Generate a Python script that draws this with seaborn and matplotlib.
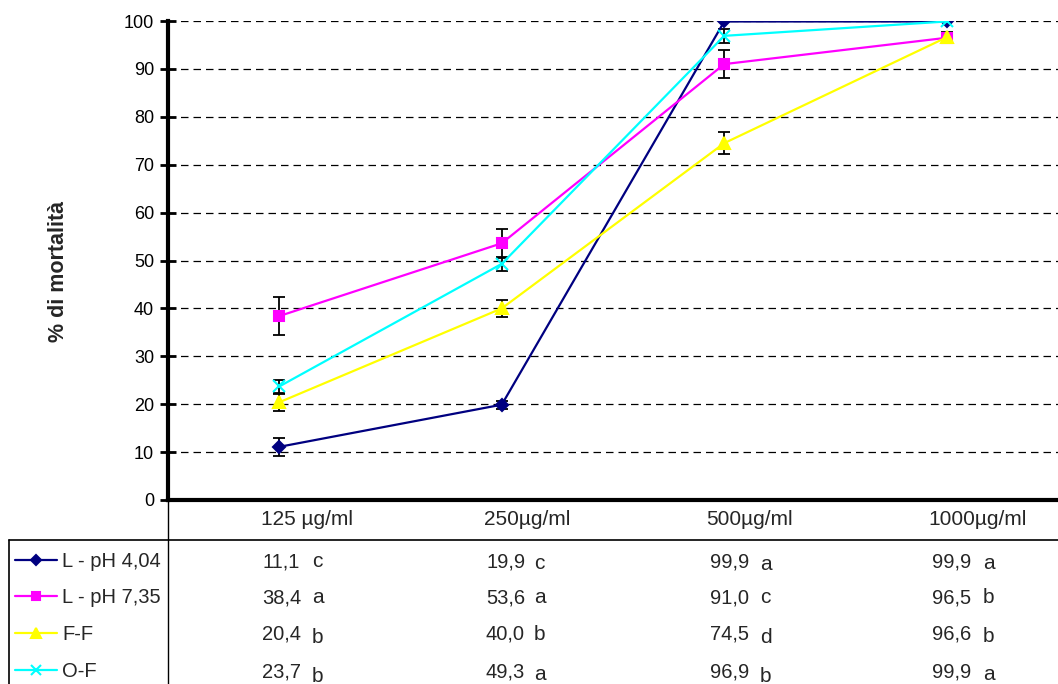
import matplotlib
matplotlib.use("Agg")
import matplotlib.pyplot as plt
from matplotlib.lines import Line2D
import matplotlib.transforms as mtransforms
import seaborn as sns
import pandas as pd
import numpy as np

categories = ["125 µg/ml", "250µg/ml", "500µg/ml", "1000µg/ml"]
series = ["L - pH 4,04", "L - pH 7,35", "F-F", "O-F"]
vals_l404 = [11.1, 19.9, 99.9, 99.9]
vals_l735 = [38.4, 53.6, 91.0, 96.5]
vals_ff = [20.4, 40.0, 74.5, 96.6]
vals_of = [23.7, 49.3, 96.9, 99.9]
err_l404 = [1.9, 0.8, 0.0, 0.0]
err_l735 = [4.0, 3.0, 3.0, 1.0]
err_ff = [1.8, 1.8, 2.3, 1.0]
err_of = [1.3, 1.4, 1.4, 0.0]
letters_l404 = ["c", "c", "a", "a"]
letters_l735 = ["a", "a", "c", "b"]
letters_ff = ["b", "b", "d", "b"]
letters_of = ["b", "a", "b", "a"]
y_ticks = [0, 10, 20, 30, 40, 50, 60, 70, 80, 90, 100]

values = [vals_l404, vals_l735, vals_ff, vals_of]
errors = [err_l404, err_l735, err_ff, err_of]
letters = [letters_l404, letters_l735, letters_ff, letters_of]
colors = {"L - pH 4,04": "#000080", "L - pH 7,35": "#FF00FF", "F-F": "#FFFF00", "O-F": "#00FFFF"}
markers = {"L - pH 4,04": "D", "L - pH 7,35": "s", "F-F": "^", "O-F": "x"}
msizes = {"L - pH 4,04": 6, "L - pH 7,35": 7, "F-F": 8, "O-F": 8}

sns.set_theme(style="white")
plt.rcParams["font.family"] = ["Liberation Sans", "DejaVu Sans"]

W, H = 1058, 684
fig = plt.figure(figsize=(W / 100, H / 100), dpi=100)
ax = fig.add_axes([168 / W, (H - 500) / H, (W - 168) / W, 479 / H])

rows = []
for s, v in zip(series, values):
    for i, c in enumerate(categories):
        rows.append({"series": s, "x": i, "val": v[i]})
df = pd.DataFrame(rows)

for s, v, e in zip(series, values, errors):
    ax.errorbar(range(len(categories)), v, yerr=e, fmt="none", ecolor="black",
                elinewidth=1.3, capsize=4.5, capthick=1.3, zorder=2)

for s in series:
    sub = df[df["series"] == s]
    sns.lineplot(data=sub, x="x", y="val", color=colors[s], marker=markers[s],
                 markersize=msizes[s], markeredgewidth=1.5, markeredgecolor=colors[s],
                 linewidth=1.6, legend=False, ax=ax, zorder=3)

ax.set_xlim(-0.5, 3.5)
ax.set_ylim(0, 100)
ax.set_yticks(y_ticks)
ax.set_yticklabels([str(t) for t in y_ticks], fontsize=13)
ax.set_xticks(range(len(categories)))
ax.set_xticklabels(categories, fontsize=15)
ax.tick_params(axis="x", length=0, pad=7.5)
offset = mtransforms.ScaledTranslation(-0.18, 0, fig.dpi_scale_trans)
for lab in ax.get_xticklabels():
    lab.set_ha("left")
    lab.set_transform(lab.get_transform() + offset)
ax.tick_params(axis="y", direction="inout", length=12, width=2, pad=4, left=True, colors="black")
ax.set_ylabel("% di mortalità", fontsize=15.5, fontweight="bold", va="center")
ax.yaxis.set_label_coords((58 - 168) / 890, (500 - 272) / 479)
ax.set_xlabel("")
ax.grid(axis="y", color="black", linestyle=(0, (6, 4)), linewidth=0.9)
ax.grid(axis="x", visible=False)
for sp in ["top", "right"]:
    ax.spines[sp].set_visible(False)
ax.spines["left"].set_linewidth(3)
ax.spines["bottom"].set_linewidth(3)
ax.spines["left"].set_color("black")
ax.spines["bottom"].set_color("black")

def fx(px):
    return px / W

def fy(py):
    return 1 - py / H

fig.add_artist(Line2D([fx(168), fx(168)], [fy(500), fy(684)], color="black", lw=1))
fig.add_artist(Line2D([fx(9), fx(W)], [fy(540), fy(540)], color="black", lw=1.2))
fig.add_artist(Line2D([fx(9), fx(9)], [fy(540), fy(684)], color="black", lw=1.2))

row_base = [567, 603, 640, 677]
val_x = [262, 486, 710, 932]
let_x = [312, 534, 760, 983]
let_dy = [[0, 2, 3, 2], [0, 0, 0, 0], [3, 0, 3, 2], [5, 3, 5, 3]]
for r, (s, v, lt) in enumerate(zip(series, values, letters)):
    yb = row_base[r]
    yc = yb - 7
    fig.add_artist(Line2D([fx(15), fx(57)], [fy(yc), fy(yc)], color=colors[s], lw=1.6))
    fig.add_artist(Line2D([fx(36)], [fy(yc)], color=colors[s], lw=0, marker=markers[s],
                          markersize=msizes[s] - 1, markeredgewidth=1.5,
                          markerfacecolor=colors[s], markeredgecolor=colors[s]))
    fig.text(fx(62), fy(yb), s, fontsize=14.5, va="baseline", ha="left")
    for i in range(len(categories)):
        txt = f"{v[i]:.1f}".replace(".", ",")
        fig.text(fx(val_x[i]), fy(yb), txt, fontsize=14.5, va="baseline", ha="left")
        fig.text(fx(let_x[i]), fy(yb + let_dy[r][i]), lt[i], fontsize=15, va="baseline", ha="left")

fig.savefig("out.png", dpi=100)
